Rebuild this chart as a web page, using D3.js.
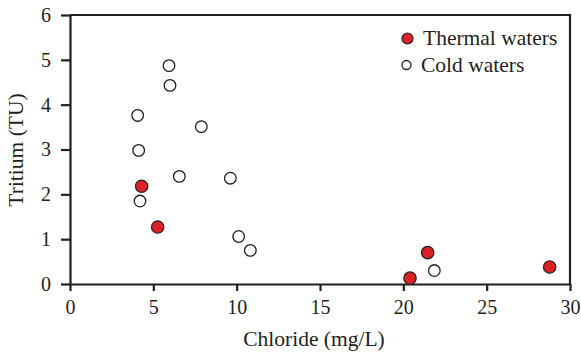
<!DOCTYPE html>
<html>
<head>
<meta charset="utf-8">
<script src="https://cdn.jsdelivr.net/npm/d3@7"></script>
<style>
  body { margin: 0; background: #fff; }
  text { font-family: "Liberation Serif", "Times New Roman", serif; fill: #231f20; }
</style>
</head>
<body>
<svg id="chart" width="581" height="352"></svg>
<script>
// chloride (mg/L) vs tritium (TU)
const thermalCl = [4.3, 5.26, 20.4, 21.46, 28.78];
const thermalTU = [2.18, 1.27, 0.13, 0.70, 0.38];
const coldCl = [5.94, 6.0, 4.06, 7.88, 4.12, 6.56, 9.62, 4.2, 10.12, 10.82, 21.86];
const coldTU = [4.87, 4.43, 3.76, 3.51, 2.98, 2.40, 2.36, 1.85, 1.06, 0.75, 0.30];
const xTicks = [0, 5, 10, 15, 20, 25, 30];
const yTicks = [0, 1, 2, 3, 4, 5, 6];

const svg = d3.select("#chart");
const plotLeft = 70, plotRight = 570, plotTop = 15, plotBottom = 284;
const ink = "#231f20";
const red = "#d92126";

const x = d3.scaleLinear().domain([0, 30]).range([plotLeft, plotRight]);
const y = d3.scaleLinear().domain([0, 6]).range([plotBottom, plotTop]);

// frame (top + right)
svg.append("path")
  .attr("d", `M${plotLeft},${plotTop}H${plotRight}V${plotBottom}`)
  .attr("fill", "none")
  .attr("stroke", ink)
  .attr("stroke-width", 2.2);

const xAxis = svg.append("g")
  .attr("transform", `translate(0,${plotBottom})`)
  .call(d3.axisBottom(x).tickValues(xTicks).tickFormat(d3.format("d"))
    .tickSize(7).tickSizeOuter(0).tickPadding(9));

const yAxis = svg.append("g")
  .attr("transform", `translate(${plotLeft},0)`)
  .call(d3.axisLeft(y).tickValues(yTicks).tickFormat(d3.format("d"))
    .tickSize(9).tickSizeOuter(0).tickPadding(10));

[xAxis, yAxis].forEach(ax => {
  ax.attr("font-family", null);
  ax.select(".domain").attr("stroke", ink).attr("stroke-width", 2.2);
  ax.selectAll(".tick line").attr("stroke", ink).attr("stroke-width", 2.2);
  ax.selectAll(".tick text")
    .attr("font-size", 20)
    .attr("font-family", "Liberation Serif, serif")
    .attr("fill", ink);
});

// axis titles
svg.append("text")
  .attr("x", 314)
  .attr("y", 346)
  .attr("text-anchor", "middle")
  .attr("font-size", 21.5)
  .text("Chloride (mg/L)");

svg.append("text")
  .attr("transform", `translate(23,150) rotate(-90)`)
  .attr("text-anchor", "middle")
  .attr("font-size", 21.5)
  .text("Tritium (TU)");

// points
svg.append("g")
  .selectAll("circle")
  .data(coldCl.map((c, i) => [c, coldTU[i]]))
  .join("circle")
  .attr("cx", d => x(d[0]))
  .attr("cy", d => y(d[1]))
  .attr("r", 5.8)
  .attr("fill", "#fff")
  .attr("stroke", ink)
  .attr("stroke-width", 1.3);

svg.append("g")
  .selectAll("circle")
  .data(thermalCl.map((c, i) => [c, thermalTU[i]]))
  .join("circle")
  .attr("cx", d => x(d[0]))
  .attr("cy", d => y(d[1]))
  .attr("r", 6.2)
  .attr("fill", red)
  .attr("stroke", ink)
  .attr("stroke-width", 1.2);

// legend
const legend = svg.append("g");
legend.append("circle")
  .attr("cx", 407.5).attr("cy", 38.5).attr("r", 5.5)
  .attr("fill", red).attr("stroke", ink).attr("stroke-width", 1.2);
legend.append("text")
  .attr("x", 423).attr("y", 45)
  .attr("font-size", 21.5)
  .text("Thermal waters");
legend.append("circle")
  .attr("cx", 406.5).attr("cy", 65).attr("r", 4.5)
  .attr("fill", "#fff").attr("stroke", ink).attr("stroke-width", 1.3);
legend.append("text")
  .attr("x", 421).attr("y", 72)
  .attr("font-size", 21.5)
  .text("Cold waters");
</script>
</body>
</html>
